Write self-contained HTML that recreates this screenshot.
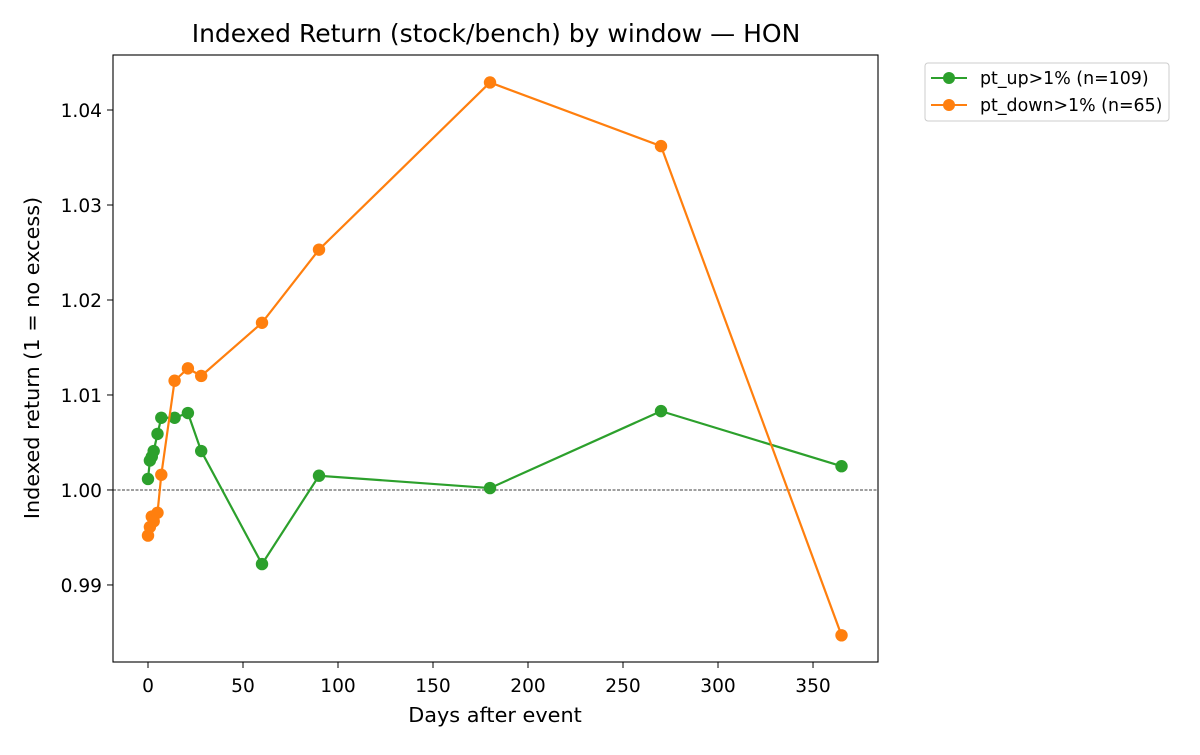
<!DOCTYPE html>
<html><head><meta charset="utf-8"><style>
body{margin:0;background:#fff;}
svg text{font-family:"DejaVu Sans","Liberation Sans",sans-serif;fill:#000;}
</style></head><body>
<svg id="chart" width="1200" height="750" xmlns="http://www.w3.org/2000/svg"></svg>
<script>
const days = [0,1,2,3,5,7,14,21,28,60,90,180,270,365];
const upValues = [1.00116,1.0031,1.0035,1.0041,1.0059,1.0076,1.0076,1.0081,1.0041,0.9922,1.0015,1.0002,1.0083,1.0025];
const downValues = [0.9952,0.9961,0.9972,0.9967,0.9976,1.0016,1.0115,1.0128,1.0120,1.0176,1.0253,1.0429,1.0362,0.9847];
const xTicks = [0,50,100,150,200,250,300,350];
const yTicks = [0.99,1.00,1.01,1.02,1.03,1.04];
const yTickLabels = ["0.99","1.00","1.01","1.02","1.03","1.04"];
const seriesNames = ["pt_up>1% (n=109)","pt_down>1% (n=65)"];

const L=113,R=878,T=55,B=662;
const xMin=-18.42,xMax=384.2,yMin=0.98189,yMax=1.04579;
const sx=v=>L+(v-xMin)/(xMax-xMin)*(R-L);
const sy=v=>B-(v-yMin)/(yMax-yMin)*(B-T);
const svg=document.getElementById('chart');
const NS='http://www.w3.org/2000/svg';
function mk(tag,attrs,parent){const e=document.createElementNS(NS,tag);for(const k in attrs)e.setAttribute(k,attrs[k]);(parent||svg).appendChild(e);return e;}

let t=mk('text',{x:496,y:42,'font-size':25,'text-anchor':'middle'});t.textContent='Indexed Return (stock/bench) by window — HON';



let bl=mk('line',{x1:L,x2:R,y1:sy(1),y2:sy(1),stroke:'#000','stroke-width':0.8,'stroke-dasharray':'3,1.5'});



function series(vals,color,name){
  const g=mk('g',{});
  
  
  mk('polyline',{points:days.map((d,i)=>sx(d)+','+sy(vals[i])).join(' '),fill:'none',stroke:color,'stroke-width':2.2},g);
  days.forEach((d,i)=>{const c=mk('circle',{cx:sx(d),cy:sy(vals[i]),r:6.2,fill:color},g);
    
    });
}
series(upValues,'#2ca02c','series-pt-up');
series(downValues,'#ff7f0e','series-pt-down');

let fr=mk('rect',{x:L,y:T,width:R-L,height:B-T,fill:'none',stroke:'#000','stroke-width':1.1});



xTicks.forEach(v=>{const x=sx(v);mk('line',{x1:x,x2:x,y1:B,y2:B+6,stroke:'#000'});
  const tt=mk('text',{x:x,y:B+30,'font-size':18.6,'text-anchor':'middle'});tt.textContent=v;
  
  });
yTicks.forEach((v,i)=>{const y=sy(v);mk('line',{x1:L-6,x2:L,y1:y,y2:y,stroke:'#000'});
  const tt=mk('text',{x:L-11,y:y+7,'font-size':18.6,'text-anchor':'end'});tt.textContent=yTickLabels[i];
  
  });

let xl=mk('text',{x:495,y:722,'font-size':20.8,'text-anchor':'middle'});xl.textContent='Days after event';


let yl=mk('text',{x:0,y:0,'font-size':20.8,'text-anchor':'middle',transform:'translate(39,358) rotate(-90)'});yl.textContent='Indexed return (1 = no excess)';



const lg=mk('g',{});


mk('rect',{x:925,y:63,width:244,height:58,rx:3,fill:'#fff',stroke:'#ccc'},lg);
['#2ca02c','#ff7f0e'].forEach((c,i)=>{const y=78+i*27;
  const e=mk('g',{},lg);
  
  
  mk('line',{x1:931,x2:967,y1:y,y2:y,stroke:c,'stroke-width':2},e);
  mk('circle',{cx:949,cy:y,r:6,fill:c},e);
  const tx=mk('text',{x:980,y:y+6,'font-size':17.4},e);tx.textContent=seriesNames[i];});
</script>
</body></html>
